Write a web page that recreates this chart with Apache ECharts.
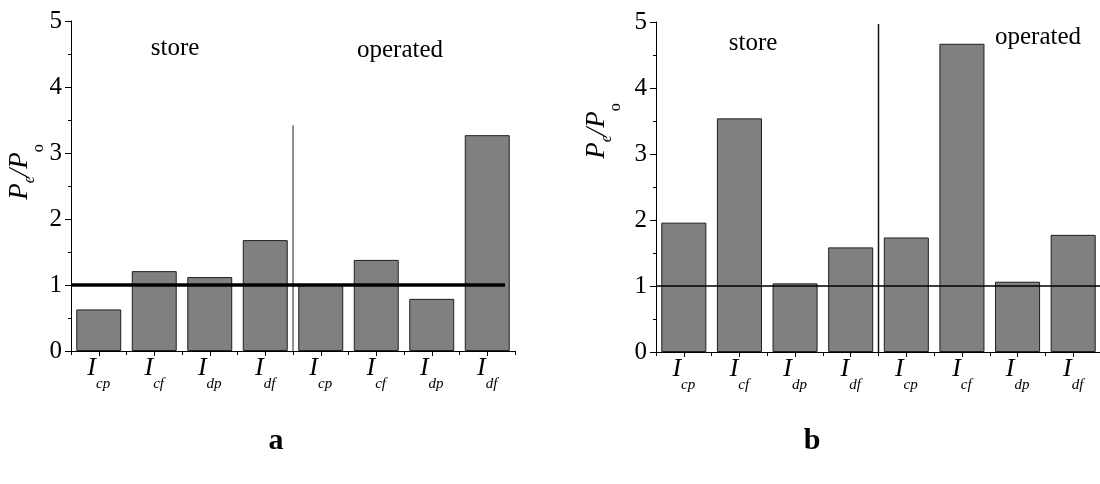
<!DOCTYPE html>
<html><head><meta charset="utf-8">
<script src="https://cdn.jsdelivr.net/npm/echarts@6/dist/echarts.min.js"></script>
<style>html,body{margin:0;padding:0;background:#fff}#c{width:1100px;height:484px}</style>
</head><body><div id="c"></div>
<script>
// ---- data ----
const categories = ['cp', 'cf', 'dp', 'df', 'cp', 'cf', 'dp', 'df'];
const valuesA = [0.63, 1.21, 1.12, 1.68, 1.00, 1.38, 0.79, 3.27];
const valuesB = [1.96, 3.54, 1.04, 1.585, 1.735, 4.67, 1.065, 1.775];
const yTicks = [0, 1, 2, 3, 4, 5];
const groupLabels = ['store', 'operated'];
const panelLabels = ['a', 'b'];
const refLevel = 1;
const dividerPos = 4;          // boundary between store / operated groups (category units)
const dividerTopA = 3.42;
const dividerTopB = 4.97;
const refLineEndA = 7.82;
const refLineEndB = 8;

const FONT = 'Liberation Serif';
const chart = echarts.init(document.getElementById('c'), null, {renderer: 'canvas'});

const labelRich = {
  i: {fontFamily: FONT, fontStyle: 'italic', fontSize: 26, height: 26, lineHeight: 26, verticalAlign: 'top', color: '#000'},
  s: {fontFamily: FONT, fontStyle: 'italic', fontSize: 15, height: 58, lineHeight: 58, verticalAlign: 'top', color: '#000'}
};

function xAxesFor(g) {
  return [
    {type: 'category', gridIndex: g, data: categories, position: 'bottom',
     axisLine: {lineStyle: {color: '#000', width: 1}},
     axisTick: {show: true, length: 4, lineStyle: {color: '#000'}},
     axisLabel: {formatter: v => '{i|I}{s|' + v + '}', rich: labelRich, margin: 4, interval: 0}},
    {type: 'category', gridIndex: g, data: categories, position: 'bottom',
     axisLine: {show: false},
     axisTick: {show: true, alignWithLabel: true, length: 5, lineStyle: {color: '#000'}},
     axisLabel: {show: false}},
    {type: 'value', gridIndex: g, min: 0, max: categories.length, show: false}
  ];
}
function yAxisFor(g) {
  return {type: 'value', gridIndex: g, min: yTicks[0], max: yTicks[yTicks.length - 1], interval: 1,
    axisLine: {show: true, lineStyle: {color: '#000', width: 1}},
    axisTick: {show: true, length: 6, lineStyle: {color: '#000'}},
    minorTick: {show: true, splitNumber: 2, length: 3, lineStyle: {color: '#000'}},
    splitLine: {show: false},
    axisLabel: {fontFamily: FONT, fontSize: 25, color: '#000', margin: 9}};
}

const barStyle = {color: '#808080', borderColor: '#1e1e1e', borderWidth: 1};

const nameRich = {
  p: {fontFamily: FONT, fontStyle: 'italic', fontSize: 27, height: 26, lineHeight: 26, verticalAlign: 'top', fill: '#000'},
  e: {fontFamily: FONT, fontStyle: 'italic', fontSize: 16, height: 46, lineHeight: 46, verticalAlign: 'top', fill: '#000'},
  o: {fontFamily: FONT, fontSize: 16, height: 64, lineHeight: 64, verticalAlign: 'top', fill: '#000'}
};
const nameText = '{p|P}{e|e}{p|/P}{o|o}';

function txt(x, y, text, size, extra) {
  return Object.assign({type: 'text', x: x, y: y, silent: true,
    style: Object.assign({text: text, fontFamily: FONT, fontSize: size, fill: '#000', align: 'center', verticalAlign: 'middle'}, extra || {})});
}

const option = {
  backgroundColor: '#fff',
  animation: false,
  grid: [
    {left: 71, top: 21, width: 444, height: 330, outerBoundsMode: 'none', containLabel: false},
    {left: 656, top: 22, width: 445, height: 330, outerBoundsMode: 'none', containLabel: false}
  ],
  xAxis: [...xAxesFor(0), ...xAxesFor(1)],
  yAxis: [yAxisFor(0), yAxisFor(1)],
  series: [
    {type: 'bar', xAxisIndex: 0, yAxisIndex: 0, data: valuesA, barCategoryGap: '19%', itemStyle: barStyle, z: 2},
    {type: 'bar', xAxisIndex: 3, yAxisIndex: 1, data: valuesB, barCategoryGap: '19%', itemStyle: barStyle, z: 2},
    {type: 'line', xAxisIndex: 2, yAxisIndex: 0, data: [[dividerPos, 0], [dividerPos, dividerTopA]],
     symbol: 'none', lineStyle: {color: '#222', width: 1}, z: 3},
    {type: 'line', xAxisIndex: 5, yAxisIndex: 1, data: [[dividerPos, 0], [dividerPos, dividerTopB]],
     symbol: 'none', lineStyle: {color: '#111', width: 1.5}, z: 3},
    {type: 'line', xAxisIndex: 2, yAxisIndex: 0, data: [[0, refLevel], [refLineEndA, refLevel]],
     symbol: 'none', lineStyle: {color: '#000', width: 3.5}, z: 4},
    {type: 'line', xAxisIndex: 5, yAxisIndex: 1, data: [[0, refLevel], [refLineEndB, refLevel]],
     symbol: 'none', lineStyle: {color: '#000', width: 1.5}, z: 4}
  ],
  graphic: [
    txt(175, 48, groupLabels[0], 25),
    txt(400, 50, groupLabels[1], 25),
    txt(753, 43, groupLabels[0], 25),
    txt(1038, 37, groupLabels[1], 25),
    {type: 'text', x: 7, y: 172, rotation: Math.PI / 2, silent: true,
     style: {text: nameText, rich: nameRich, align: 'center', verticalAlign: 'top', fill: '#000'}},
    {type: 'text', x: 584, y: 131, rotation: Math.PI / 2, silent: true,
     style: {text: nameText, rich: nameRich, align: 'center', verticalAlign: 'top', fill: '#000'}},
    txt(276, 441, panelLabels[0], 30, {fontWeight: 'bold'}),
    txt(812, 441, panelLabels[1], 30, {fontWeight: 'bold'})
  ]
};
chart.setOption(option);
</script></body></html>
